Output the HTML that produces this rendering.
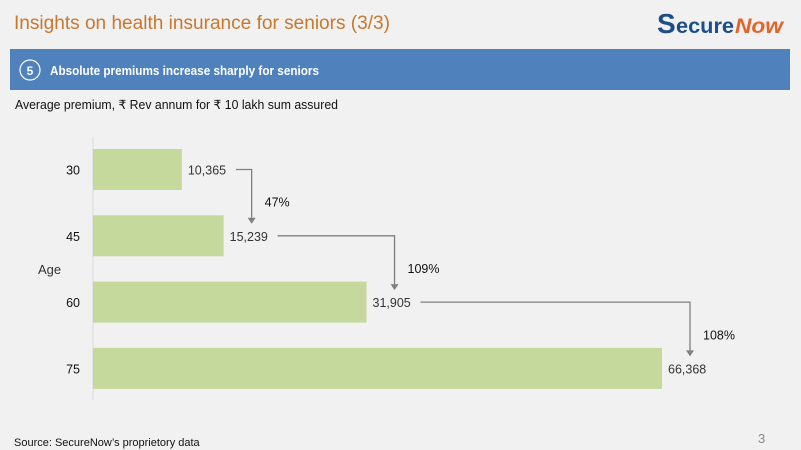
<!DOCTYPE html>
<html><head><meta charset="utf-8">
<style>
body{margin:0;width:801px;height:450px;background:#f1f1f1;overflow:hidden;font-family:"Liberation Sans",sans-serif;}
svg{display:block}
</style></head>
<body>
<svg width="801" height="450">
<text x="14" y="29" font-size="19" fill="#c7782f" textLength="376" lengthAdjust="spacingAndGlyphs">Insights on health insurance for seniors (3/3)</text>
<g>
<text x="657" y="33" font-size="28" font-weight="bold" fill="#1c4f8a">S</text>
<text x="676" y="33" font-size="21" font-weight="bold" fill="#1c4f8a" textLength="58" lengthAdjust="spacingAndGlyphs">ecure</text>
<text x="735" y="33" font-size="21" font-weight="bold" font-style="italic" fill="#e2642a" textLength="48" lengthAdjust="spacingAndGlyphs">Now</text>
</g>
<rect x="10" y="49" width="780" height="41" fill="#4f81bd"/>
<circle cx="30" cy="70" r="10" fill="none" stroke="#fff" stroke-width="1.2"/>
<text x="30" y="75" font-size="12" font-weight="bold" fill="#fff" text-anchor="middle">5</text>
<text x="50" y="75" font-size="13" font-weight="bold" fill="#fff" textLength="269" lengthAdjust="spacingAndGlyphs">Absolute premiums increase sharply for seniors</text>
<text x="15" y="109" font-size="12.5" fill="#111" textLength="323" lengthAdjust="spacingAndGlyphs">Average premium, ₹ Rev annum for ₹ 10 lakh sum assured</text>
<g id="chart"></g>
<text x="14" y="446" font-size="11" fill="#111">Source: SecureNow’s proprietory data</text>
<text x="758" y="443" font-size="13" fill="#888">3</text>
</svg>
<script>
const ages=["30","45","60","75"];
const premiums=[10365,15239,31905,66368];
const growthLabels=["47%","109%","108%"];
const NS="http://www.w3.org/2000/svg";
const g=document.getElementById('chart');
const x0=93, pxPer=569/66368;
const xs=v=>x0+v*pxPer;
const rowTop=i=>149+i*66.3;
const barH=41;
function el(t,a){const e=document.createElementNS(NS,t);for(const k in a)e.setAttribute(k,a[k]);g.appendChild(e);return e;}
const ax=el('line',{x1:x0,y1:137,x2:x0,y2:400,stroke:'#d9d9d9','stroke-width':1});


const at=el('text',{x:38,y:274,'font-size':13,fill:'#333'});at.textContent='Age';


const fmt=v=>v.toLocaleString('en-US');
premiums.forEach((v,i)=>{
  const y=rowTop(i);
  const r=el('rect',{x:x0,y:y,width:xs(v)-x0,height:barH,fill:'#c5d99c'});
  
  
  const c=el('text',{x:80,y:y+barH/2+5,'font-size':12.5,fill:'#111','text-anchor':'end'});c.textContent=ages[i];
  
  
  const l=el('text',{x:xs(v)+6,y:y+barH/2+5,'font-size':12.5,fill:'#333'});l.textContent=fmt(v);
  
  
});
for(let i=0;i<premiums.length-1;i++){
  const y1=rowTop(i)+barH/2, y2=rowTop(i+1)+barH/2-12;
  const sx=xs(premiums[i])+54, vx=xs(premiums[i+1])+28;
  const p=el('path',{d:`M${sx},${y1}H${vx}V${y2-6}`,fill:'none',stroke:'#7f7f7f','stroke-width':1.3});
  
  
  const a=el('path',{d:`M${vx-4},${y2-6}L${vx+4},${y2-6}L${vx},${y2}Z`,fill:'#7f7f7f'});
  
  
  const t=el('text',{x:vx+13,y:(rowTop(i)+rowTop(i+1))/2+barH/2+4,'font-size':12.5,fill:'#111'});t.textContent=growthLabels[i];
  
  
}
</script>
</body></html>
